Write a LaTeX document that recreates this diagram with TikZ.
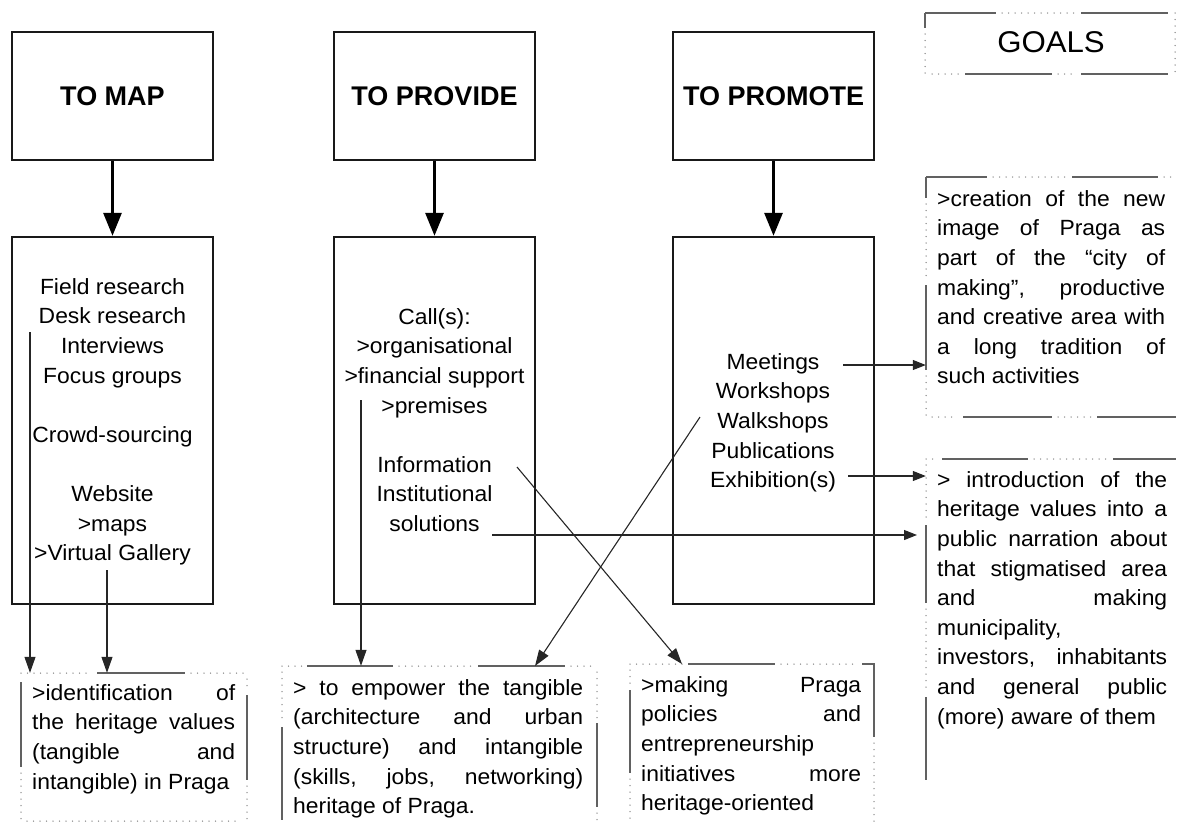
\documentclass[tikz,border=0pt]{standalone}
\usepackage{fontspec}
\setmainfont[FakeStretch=1.04]{Liberation Sans}
\newfontfamily\hfont{Liberation Sans}
\usetikzlibrary{arrows.meta,fit}
\newcommand\jf[2]{\makebox[#1pt][s]{\strut #2}}
\newcommand\jn[1]{\strut #1}
\begin{document}
\begin{tikzpicture}[x=1pt,y=-1pt,
  topbox/.style={draw=black!90, line width=2.4pt, minimum width=201pt, minimum height=128pt, inner sep=0pt,
     font=\hfont\bfseries\fontsize{27}{32}\selectfont},
  midbox/.style={draw=black!90, line width=2.4pt, minimum width=201pt, minimum height=367pt, inner sep=0pt},
  txt/.style={inner sep=0pt, font=\fontsize{22}{29.6}\selectfont},
  region/.style={inner sep=0pt, draw=none},
  big/.style={line width=3pt, -{Triangle[width=18pt,length=23pt]}},
  conn/.style={draw=black!85, line width=1.1pt, -{Triangle[width=11pt,length=16pt]}},
  connr/.style={draw=black!85, line width=1.1pt, -{Triangle[width=10pt,length=13pt]}},
  sl/.style={draw=black!62, line width=1.6pt},
  dt/.style={draw=black!45, line width=1.5pt, line cap=round, dash pattern=on 0pt off 6.5pt}]
\useasboundingbox (0,0) rectangle (1177,823);

% top boxes
\node[topbox] (map) at (112.5,96) {TO MAP};
\node[topbox] (prov) at (434.5,96) {TO PROVIDE};
\node[topbox] (prom) at (773.5,96) {TO PROMOTE};
% middle boxes
\node[midbox] (mapb) at (112.5,420.5) {};
\node[midbox] (provb) at (434.5,420.5) {};
\node[midbox] (promb) at (773.5,420.5) {};
\draw[big] (map) -- (mapb);
\draw[big] (prov) -- (provb);
\draw[big] (prom) -- (promb);

% middle box texts
\node[txt, anchor=north, align=center] (mapt) at (112.5,273.3) {\jn{Field research}\\ \jn{Desk research}\\ \jn{Interviews}\\ \jn{Focus groups}\\ \jn{}\\ \jn{Crowd-sourcing}\\ \jn{}\\ \jn{Website}\\ \jn{>maps}\\ \jn{>Virtual Gallery}};
\node[txt, anchor=north, align=center] (provt) at (434.5,303.3) {\jn{Call(s):}\\ \jn{>organisational}\\ \jn{>financial support}\\ \jn{>premises}\\ \jn{}\\ \jn{Information}\\ \jn{Institutional}\\ \jn{solutions}};
\node[txt, anchor=north, align=center] (promt) at (773,348.3) {\jn{Meetings}\\ \jn{Workshops}\\ \jn{Walkshops}\\ \jn{Publications}\\ \jn{Exhibition(s)}};

% goal regions
\node[region, fit={(925,13) (1175,74)}] (goals) {};
\node[inner sep=0pt, font=\fontsize{30}{36}\selectfont] (goalst) at (1051,42) {GOALS};
\node[region, fit={(926,177) (1176,417)}] (g1) {};
\node[region, fit={(926,459) (1176,780)}] (g2) {};
\node[region, fit={(21,673) (247,822)}] (ident) {};
\node[region, fit={(282,666) (597,822)}] (emp) {};
\node[region, fit={(630,664) (874,822)}] (make) {};

% goal texts
\node[txt, anchor=north west, align=left] (g1t) at (937,185.3) {\jf{228}{>creation of the new}\\ \jf{228}{image of Praga as}\\ \jf{228}{part of the “city of}\\ \jf{228}{making”, productive}\\ \jf{228}{and creative area with}\\ \jf{228}{a long tradition of}\\ \jn{such activities}};
\node[txt, anchor=north west, align=left] (g2t) at (937,466.3) {\jf{230}{> introduction of the}\\ \jf{230}{heritage values into a}\\ \jf{230}{public narration about}\\ \jf{230}{that stigmatised area}\\ \jf{230}{and making}\\ \jn{municipality,}\\ \jf{230}{investors, inhabitants}\\ \jf{230}{and general public}\\ \jn{(more) aware of them}};
\node[txt, anchor=north west, align=left] (identt) at (32,679.3) {\jf{203}{>identification of}\\ \jf{203}{the heritage values}\\ \jf{203}{(tangible and}\\ \jn{intangible) in Praga}};
\node[txt, anchor=north west, align=left] (empt) at (293,674.3) {\jf{290}{> to empower the tangible}\\ \jf{290}{(architecture and urban}\\ \jf{290}{structure) and intangible}\\ \jf{290}{(skills, jobs, networking)}\\ \jn{heritage of Praga.}};
\node[txt, anchor=north west, align=left] (maket) at (641,671.3) {\jf{220}{>making Praga}\\ \jf{220}{policies and}\\ \jn{entrepreneurship}\\ \jf{220}{initiatives more}\\ \jn{heritage-oriented}};

% borders: GOALS
\draw[sl] (925,13) -- (996,13); \draw[dt] (1002,13) -- (1076,13); \draw[sl] (1081,13) -- (1168,13); \draw[dt] (1175,13) -- (1175,74);
\draw[sl] (925,13) -- (925,28); \draw[dt] (925,34) -- (925,74);
\draw[dt] (932,74) -- (960,74); \draw[sl] (965,74) -- (1052,74); \draw[dt] (1058,74) -- (1076,74); \draw[sl] (1081,74) -- (1168,74);
% goal 1
\draw[sl] (926,177) -- (987,177); \draw[dt] (993,177) -- (1066,177); \draw[sl] (1072,177) -- (1158,177); \draw[dt] (1164,177) -- (1176,177);
\draw[sl] (926,177) -- (926,198); \draw[dt] (926,204) -- (926,280); \draw[sl] (926,285) -- (926,370); \draw[dt] (926,376) -- (926,417);
\draw[dt] (932,417) -- (958,417); \draw[sl] (963,417) -- (1052,417); \draw[dt] (1058,417) -- (1092,417); \draw[sl] (1097,417) -- (1176,417);
% goal 2
\draw[dt] (926,459) -- (938,459); \draw[sl] (942,459) -- (1028,459); \draw[dt] (1034,459) -- (1108,459); \draw[sl] (1113,459) -- (1176,459);
\draw[dt] (926,465) -- (926,520); \draw[sl] (926,525) -- (926,603); \draw[dt] (926,609) -- (926,692); \draw[sl] (926,697) -- (926,780);
% identification
\draw[dt] (21,673) -- (92,673); \draw[sl] (97,673) -- (185,673); \draw[dt] (191,673) -- (247,673);
\draw[sl] (21,682) -- (21,767); \draw[dt] (21,773) -- (21,822);
\draw[dt] (247,679) -- (247,690); \draw[sl] (247,695) -- (247,780); \draw[dt] (247,786) -- (247,822);
\draw[dt] (27,821) -- (241,821);
% empower
\draw[dt] (282,666) -- (302,666); \draw[sl] (307,666) -- (393,666); \draw[dt] (399,666) -- (473,666); \draw[sl] (478,666) -- (565,666); \draw[dt] (571,666) -- (597,666);
\draw[dt] (282,672) -- (282,722); \draw[sl] (282,727) -- (282,820);
\draw[dt] (597,672) -- (597,718); \draw[sl] (597,723) -- (597,807); \draw[dt] (597,813) -- (597,822);
% making
\draw[dt] (630,664) -- (683,664); \draw[sl] (688,664) -- (775,664); \draw[dt] (781,664) -- (857,664); \draw[sl] (862,664) -- (874,664) -- (874,737); \draw[dt] (874,743) -- (874,822);
\draw[dt] (630,670) -- (630,685); \draw[sl] (630,690) -- (630,773); \draw[dt] (630,779) -- (630,822);

% connectors
\coordinate (fr) at (30,332);
\coordinate (vg) at (107,570);
\coordinate (fs) at (361,400);
\coordinate (inf) at (517,467);
\coordinate (mk) at (682,664);
\coordinate (wk) at (700,417);
\coordinate (em) at (535,666);
\coordinate (mt) at (843,365);
\coordinate (ex) at (848,476);
\coordinate (sol) at (492,535);
\coordinate (solend) at (917,535);
\draw[conn] (fr) -- (fr |- ident.north);
\draw[conn] (vg) -- (vg |- ident.north);
\draw[conn] (fs) -- (fs |- emp.north);
\draw[conn] (inf) -- (mk);
\draw[conn] (wk) -- (em);
\draw[connr] (mt) -- (mt -| g1.west);
\draw[connr] (ex) -- (ex -| g2.west);
\draw[connr] (sol) -- (solend);
\end{tikzpicture}
\end{document}
